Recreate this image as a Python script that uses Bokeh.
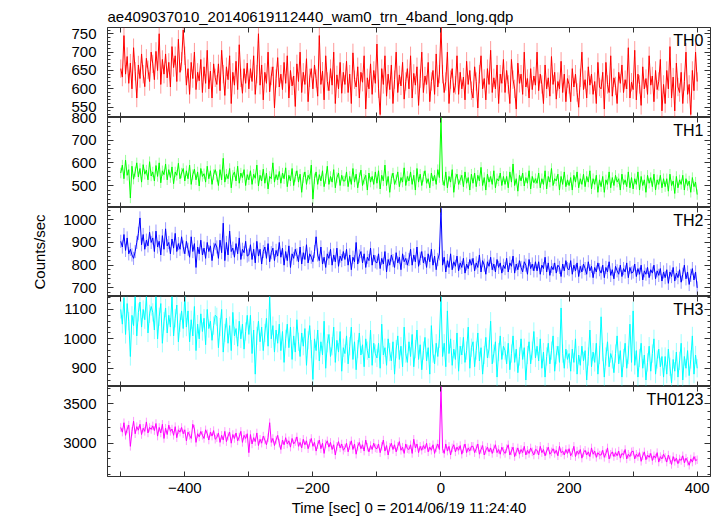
import numpy as np
from bokeh.plotting import figure
from bokeh.layouts import column
from bokeh.models import Range1d, LinearAxis, FixedTicker, Label, CustomLabelingPolicy
from bokeh.embed import file_html
from bokeh.resources import INLINE

TITLE = "ae409037010_20140619112440_wam0_trn_4band_long.qdp"
X_LABEL = "Time [sec] 0 = 2014/06/19 11:24:40"
Y_LABEL = "Counts/sec"

T_FIRST = -500   # time of first bin (s)
T_BIN = 2.5      # bin width (s)

th0 = [
    655, 632, 745, 640, 688, 615, 670, 600, 712, 648, 575, 665, 628, 695, 640, 606, 683, 652, 620, 700,
    668, 625, 702, 650, 750, 612, 680, 640, 695, 630, 672, 605, 715, 658, 690, 620, 735, 645, 675, 760,
    690, 610, 655, 585, 672, 628, 700, 598, 645, 622, 680, 590, 660, 615, 705, 600, 648, 575, 668, 630,
    612, 668, 595, 705, 640, 582, 660, 625, 690, 560, 645, 610, 675, 598, 720, 630, 588, 655, 615, 670,
    600, 655, 620, 690, 585, 640, 750, 610, 665, 570, 645, 615, 700, 592, 635, 660, 548, 628, 685, 605,
    640, 598, 672, 615, 690, 575, 650, 608, 635, 552, 668, 620, 700, 590, 645, 612, 682, 565, 630, 655,
    600, 665, 628, 580, 745, 612, 648, 570, 690, 620, 595, 655, 610, 700, 560, 638, 600, 672, 588, 645,
    612, 675, 590, 640, 560, 698, 625, 605, 660, 575, 645, 618, 690, 545, 630, 600, 668, 585, 650, 615,
    722, 600, 530, 655, 612, 690, 580, 640, 598, 665, 560, 625, 700, 590, 638, 608, 672, 572, 620, 655,
    600, 690, 575, 642, 610, 660, 555, 628, 700, 590, 635, 612, 672, 565, 620, 650, 585, 695, 605, 640,
    768, 640, 590, 620, 700, 560, 625, 655, 590, 610, 690, 585, 645, 600, 632, 570, 675, 612, 650, 595,
    575, 660, 620, 548, 640, 690, 600, 628, 570, 655, 612, 705, 590, 630, 600, 665, 560, 640, 615, 680,
    590, 650, 612, 560, 680, 625, 600, 545, 670, 615, 640, 585, 700, 605, 628, 575, 655, 598, 635, 610,
    700, 595, 640, 612, 560, 665, 600, 630, 580, 688, 612, 645, 572, 620, 600, 675, 590, 640, 565, 628,
    612, 565, 655, 605, 640, 590, 550, 630, 700, 598, 625, 575, 660, 610, 640, 585, 620, 560, 672, 605,
    600, 645, 545, 672, 612, 590, 690, 580, 630, 608, 560, 645, 615, 665, 590, 625, 600, 712, 575, 618,
    598, 705, 570, 640, 612, 555, 660, 600, 628, 585, 690, 610, 635, 565, 650, 598, 620, 680, 540, 612,
    560, 650, 600, 715, 575, 632, 540, 670, 605, 590, 645, 560, 620, 700, 585, 612, 530, 650, 595, 700,
    620,
]

th1 = [
    555, 590, 530, 612, 545, 570, 445, 585, 528, 560, 600, 538, 575, 515, 592, 550, 568, 525, 605, 542,
    560, 520, 588, 540, 600, 512, 565, 548, 595, 525, 570, 535, 582, 508, 560, 545, 598, 530, 555, 575,
    520, 565, 530, 590, 505, 548, 572, 525, 560, 498, 575, 540, 552, 515, 585, 530, 565, 505, 548, 570,
    540, 500, 570, 525, 620, 515, 550, 530, 575, 490, 545, 560, 520, 585, 510, 555, 535, 570, 500, 548,
    525, 565, 505, 550, 532, 590, 498, 545, 520, 572, 510, 555, 485, 540, 530, 600, 515, 548, 525, 562,
    510, 555, 530, 578, 495, 545, 520, 575, 500, 540, 565, 515, 550, 470, 535, 560, 505, 545, 528, 590,
    440, 530, 560, 505, 548, 520, 565, 495, 530, 585, 505, 540, 515, 570, 490, 535, 555, 500, 545, 520,
    520, 560, 495, 540, 505, 575, 515, 550, 490, 535, 568, 500, 528, 545, 480, 555, 515, 540, 505, 560,
    510, 565, 485, 545, 520, 590, 500, 540, 470, 530, 555, 505, 525, 560, 495, 535, 515, 578, 500, 540,
    520, 560, 505, 545, 480, 575, 515, 550, 500, 540, 565, 510, 530, 490, 555, 520, 545, 505, 570, 535,
    800, 525, 500, 560, 490, 540, 515, 570, 470, 530, 550, 505, 525, 545, 495, 560, 510, 535, 480, 550,
    510, 555, 495, 545, 520, 580, 500, 535, 480, 550, 515, 540, 505, 565, 490, 530, 520, 555, 500, 540,
    505, 540, 490, 560, 515, 595, 500, 530, 475, 545, 520, 555, 498, 535, 510, 565, 485, 540, 512, 530,
    510, 555, 490, 530, 505, 565, 485, 540, 515, 575, 500, 530, 520, 550, 480, 540, 505, 560, 495, 525,
    500, 535, 480, 545, 515, 560, 490, 530, 505, 550, 495, 540, 515, 565, 485, 530, 505, 545, 470, 525,
    495, 540, 470, 525, 505, 560, 490, 535, 500, 545, 515, 530, 480, 550, 505, 525, 495, 560, 490, 535,
    485, 530, 505, 560, 480, 540, 500, 525, 470, 545, 510, 535, 495, 550, 480, 525, 505, 545, 490, 530,
    495, 530, 475, 550, 500, 520, 465, 540, 490, 525, 505, 545, 480, 530, 500, 520, 470, 535, 495, 515,
    460,
]

th2 = [
    905, 880, 935, 865, 920, 850, 870, 845, 830, 860, 900, 940, 1008, 890, 935, 870, 910, 885, 945, 900,
    920, 860, 950, 880, 905, 845, 930, 870, 960, 885, 900, 850, 915, 875, 940, 860, 895, 870, 925, 880,
    850, 905, 870, 835, 925, 860, 895, 790, 880, 850, 910, 845, 875, 830, 900, 860, 885, 820, 870, 895,
    880, 830, 910, 855, 985, 820, 900, 845, 950, 860, 875, 835, 895, 850, 920, 825, 870, 855, 905, 840,
    845, 890, 825, 870, 810, 905, 840, 870, 805, 860, 880, 830, 895, 815, 855, 875, 820, 865, 840, 900,
    835, 875, 800, 860, 820, 885, 790, 850, 830, 870, 845, 815, 880, 805, 855, 825, 890, 810, 850, 835,
    815, 860, 925, 845, 820, 880, 805, 835, 790, 850, 830, 870, 800, 845, 815, 875, 795, 840, 820, 860,
    825, 870, 800, 845, 780, 835, 815, 900, 805, 840, 860, 810, 850, 790, 835, 820, 875, 800, 845, 815,
    810, 850, 785, 830, 805, 860, 770, 825, 800, 845, 820, 790, 855, 810, 835, 780, 850, 815, 830, 800,
    825, 870, 800, 845, 815, 880, 795, 830, 860, 810, 835, 790, 850, 815, 870, 800, 840, 780, 825, 850,
    1050, 800, 835, 770, 820, 790, 850, 780, 815, 795, 840, 775, 810, 790, 830, 765, 805, 785, 825, 800,
    830, 775, 810, 790, 845, 770, 820, 800, 760, 815, 795, 835, 780, 805, 770, 825, 790, 810, 765, 800,
    785, 830, 770, 810, 795, 840, 765, 805, 780, 820, 790, 770, 815, 800, 760, 825, 785, 805, 775, 815,
    775, 815, 760, 800, 785, 835, 770, 810, 755, 795, 780, 810, 765, 800, 790, 750, 805, 775, 820, 785,
    780, 820, 760, 800, 775, 810, 750, 795, 770, 805, 785, 760, 815, 775, 795, 745, 790, 770, 810, 780,
    765, 800, 745, 790, 770, 815, 755, 780, 740, 795, 775, 760, 800, 750, 785, 770, 810, 745, 790, 765,
    770, 805, 750, 785, 760, 800, 735, 775, 760, 790, 745, 780, 765, 800, 740, 775, 755, 785, 730, 770,
    745, 780, 720, 770, 750, 790, 730, 765, 745, 780, 725, 760, 800, 740, 770, 715, 755, 785, 735, 770,
    700,
]

th3 = [
    1100, 1050, 1140, 1015, 1120, 1060, 940, 1080, 1045, 1144, 1010, 1090, 1125, 1040, 1100, 1065, 1144, 1020, 1085, 1110,
    1090, 1030, 1144, 1000, 1075, 1120, 985, 1060, 1105, 1020, 1080, 1040, 1144, 1010, 1070, 1115, 990, 1055, 1095, 1035,
    1144, 1040, 1095, 990, 1065, 1010, 1110, 960, 1050, 1000, 1085, 1025, 1070, 980, 1100, 1035, 1060, 995, 1045, 1080,
    1075, 970, 1040, 1100, 955, 1020, 1070, 985, 1045, 960, 1090, 1010, 1035, 975, 1060, 1000, 1050, 965, 1025, 1080,
    1015, 1080, 950, 1030, 880, 1010, 1060, 990, 1040, 960, 1020, 1070, 975, 1144, 1000, 1045, 955, 1030, 985, 1050,
    960, 1025, 920, 1000, 1050, 970, 1040, 930, 1010, 955, 1065, 990, 940, 1020, 975, 1035, 910, 995, 1045, 965,
    862, 1000, 960, 1030, 925, 990, 945, 1060, 900, 985, 1015, 940, 975, 1040, 920, 995, 955, 1025, 890, 970,
    950, 1010, 915, 975, 1040, 930, 990, 895, 965, 1020, 945, 980, 905, 1000, 960, 935, 1030, 910, 985, 950,
    935, 985, 900, 1050, 945, 970, 910, 1000, 955, 925, 990, 880, 965, 1010, 930, 975, 905, 1040, 950, 920,
    990, 940, 1015, 905, 965, 1030, 930, 980, 895, 960, 1005, 925, 970, 880, 1045, 950, 915, 985, 940, 1000,
    1144, 940, 985, 905, 1095, 950, 1000, 910, 965, 930, 1020, 890, 975, 945, 1005, 920, 960, 1040, 900, 970,
    990, 905, 960, 1020, 925, 970, 880, 945, 1005, 935, 965, 1060, 915, 950, 990, 870, 955, 1010, 930, 975,
    960, 915, 985, 895, 950, 1010, 920, 965, 885, 940, 1000, 930, 970, 860, 945, 990, 915, 960, 1025, 935,
    975, 925, 1000, 900, 955, 870, 940, 985, 915, 960, 1010, 890, 945, 975, 920, 1105, 950, 900, 965, 930,
    950, 890, 965, 920, 1000, 880, 945, 910, 975, 925, 960, 860, 940, 1030, 905, 955, 920, 985, 880, 945,
    1075, 955, 870, 940, 990, 905, 950, 930, 885, 950, 1010, 915, 960, 870, 935, 985, 900, 945, 1050, 920,
    1095, 910, 960, 870, 935, 985, 900, 945, 860, 920, 975, 890, 950, 1000, 880, 930, 965, 905, 940, 870,
    940, 880, 965, 905, 850, 930, 890, 955, 870, 925, 985, 860, 940, 900, 960, 875, 930, 1010, 880, 945,
    900,
]

th0123 = [
    3200, 3140, 3260, 3100, 3180, 3230, 2960, 3150, 3280, 3120, 3210, 3165, 3240, 3110, 3190, 3150, 3270, 3130, 3200, 3175,
    3220, 3160, 3250, 3090, 3200, 3130, 3240, 3060, 3190, 3110, 3230, 3150, 3180, 3100, 3210, 3070, 3170, 3140, 3200, 3120,
    3170, 3030, 3140, 3100, 3060, 3240, 3180, 3010, 3120, 3080, 3150, 3100, 3060, 3170, 3120, 3040, 3140, 3090, 3160, 3050,
    3070, 3130, 3010, 3100, 3040, 3150, 3020, 3090, 3140, 3000, 3110, 3060, 3130, 3030, 3080, 3150, 3010, 3100, 3060, 3120,
    2880, 3110, 2990, 3070, 3020, 3130, 2970, 3050, 3000, 3090, 3040, 2980, 3070, 3260, 3010, 3060, 2970, 3040, 3100, 3000,
    2920, 3040, 2980, 3070, 2990, 3030, 2950, 3060, 2990, 3020, 3080, 2960, 3010, 2940, 3050, 2980, 3030, 2930, 3000, 3060,
    2960, 3010, 2900, 2980, 3040, 2930, 3000, 2870, 2990, 3030, 2950, 3010, 2920, 2980, 2850, 2960, 3020, 2940, 2990, 2910,
    2940, 3000, 2890, 2970, 3030, 2920, 2990, 2860, 2960, 3010, 2930, 2980, 2900, 3040, 2950, 2890, 2970, 2920, 3000, 2940,
    2930, 2990, 2880, 2960, 3040, 2900, 2970, 2850, 2950, 3000, 2920, 2980, 2890, 2960, 3020, 2910, 2950, 2870, 2990, 2930,
    2920, 2980, 2870, 3050, 2940, 2990, 2880, 2960, 2910, 2970, 2930, 3000, 2890, 2950, 2910, 2980, 2870, 2940, 2990, 2920,
    3720, 2930, 2870, 2990, 2900, 2960, 2850, 2940, 2980, 2890, 2950, 2910, 2970, 2860, 2930, 2990, 2880, 2940, 2900, 2960,
    2960, 2880, 2930, 2990, 2860, 2920, 2970, 2850, 2910, 2950, 2890, 2940, 2870, 2930, 2980, 2880, 2920, 2860, 2950, 2900,
    2870, 2930, 2980, 2850, 2900, 2950, 2830, 2890, 2940, 2860, 2920, 2880, 2960, 2850, 2910, 2870, 2940, 2890, 2850, 2920,
    2910, 2850, 2960, 2880, 2920, 2840, 2900, 2950, 2860, 2890, 2930, 2870, 2910, 2840, 2960, 2880, 2900, 2850, 2920, 2870,
    2930, 2840, 2880, 2960, 2830, 2900, 2860, 2920, 2810, 2880, 2910, 2850, 2890, 2830, 2940, 2860, 2900, 2820, 2880, 2850,
    2850, 2910, 2820, 2870, 2940, 2800, 2860, 2890, 2830, 2880, 2840, 2900, 2810, 2870, 2850, 2920, 2800, 2860, 2830, 2890,
    2900, 2800, 2860, 2830, 2880, 2770, 2840, 2890, 2790, 2850, 2820, 2870, 2780, 2840, 2810, 2880, 2760, 2830, 2800, 2860,
    2820, 2760, 2850, 2790, 2730, 2830, 2770, 2810, 2740, 2800, 2780, 2840, 2750, 2810, 2770, 2720, 2800, 2760, 2830, 2780,
    2790,
]

band_names = ["TH0", "TH1", "TH2", "TH3", "TH0123"]
band_values = [th0, th1, th2, th3, th0123]
band_errors = [25, 23, 29, 31, 54]
band_colors = ["#ff0000", "#00ff00", "#0000ff", "#00ffff", "#ff00ff"]
y_limits = [(522, 767), (403, 800), (662, 1054), (838, 1144), (2577, 3720)]
y_major_ticks = [[550, 600, 650, 700, 750], [500, 600, 700, 800],
                 [700, 800, 900, 1000], [900, 1000, 1100], [3000, 3500]]
y_minor_step = [10, 20, 20, 20, 100]
x_limits = (-520.7, 420.8)
x_major_ticks = [-500, -400, -300, -200, -100, 0, 100, 200, 300, 400]
x_tick_labels = {-500: "", -400: "\u2212400", -300: "", -200: "\u2212200", -100: "",
                 0: "0", 100: "", 200: "200", 300: "", 400: "400"}

FONT = "Liberation Sans"
FRAME_W = 603
frame_heights = [90, 90, 89, 90, 90]
AX = "#333333"
OVERLAP = 8


def no_labels():
    return CustomLabelingPolicy(
        code="for (const i of [...indices]) indices.unset(i); return indices;")


x_range = Range1d(*x_limits)
figs = []
n = len(band_names)
for i in range(n):
    first = i == 0
    last = i == n - 1
    vals = np.array(band_values[i], dtype=float)
    t = T_FIRST + T_BIN * np.arange(len(vals))
    err = band_errors[i]
    lo, hi = y_limits[i]

    p = figure(x_range=x_range, y_range=Range1d(lo, hi),
               frame_width=FRAME_W, frame_height=frame_heights[i],
               min_border_left=107, min_border_right=5,
               min_border_top=27 if first else OVERLAP,
               min_border_bottom=40 if last else 0,
               x_axis_location=None, y_axis_location=None,
               output_backend="svg", toolbar_location=None,
               title=TITLE if first else None,
               margin=(0, 0, 0, 0) if first else (-OVERLAP, 0, 0, 0))
    p.grid.visible = False
    p.outline_line_color = AX
    p.outline_line_width = 1
    p.background_fill_color = "white"
    p.border_fill_color = "white" if first else None
    if first:
        p.title.text_font = FONT
        p.title.text_font_size = "15px"
        p.title.text_font_style = "normal"
        p.title.text_color = "black"
        p.title.align = "left"
        p.title.offset = 0
        p.title.standoff = 5

    step = y_minor_step[i]
    minor = list(range(int(np.ceil(lo / step) * step), hi + 1, step))
    yt = FixedTicker(ticks=y_major_ticks[i], minor_ticks=minor)

    left = LinearAxis(ticker=yt, major_tick_in=6, major_tick_out=0,
                      minor_tick_in=3, minor_tick_out=0,
                      major_label_standoff=11,
                      major_label_text_font=FONT, major_label_text_font_size="15px",
                      major_label_text_color="black",
                      axis_line_color=AX, major_tick_line_color=AX, minor_tick_line_color=AX)
    if i == 2:
        left.axis_label = Y_LABEL
        left.axis_label_text_font = FONT
        left.axis_label_text_font_size = "15px"
        left.axis_label_text_font_style = "normal"
        left.axis_label_text_color = "black"
        left.axis_label_standoff = 12
    p.add_layout(left, "left")

    right = LinearAxis(ticker=yt, major_tick_in=6, major_tick_out=0,
                       minor_tick_in=3, minor_tick_out=0,
                       major_label_standoff=0, major_label_text_font_size="0px",
                       major_label_policy=no_labels(),
                       axis_line_color=AX, major_tick_line_color=AX, minor_tick_line_color=AX)
    p.add_layout(right, "right")

    xt = FixedTicker(ticks=x_major_ticks, minor_ticks=[])
    top = LinearAxis(ticker=xt, major_tick_in=5, major_tick_out=0,
                     minor_tick_in=0, minor_tick_out=0,
                     major_label_standoff=0, major_label_text_font_size="0px",
                     major_label_policy=no_labels(),
                     axis_line_color=None, major_tick_line_color=AX)
    p.add_layout(top, "above")
    if last:
        bottom = LinearAxis(ticker=xt, major_tick_in=5, major_tick_out=0,
                            minor_tick_in=0, minor_tick_out=0,
                            major_label_standoff=6,
                            major_label_overrides=x_tick_labels,
                            major_label_text_font=FONT, major_label_text_font_size="15px",
                            major_label_text_color="black",
                            axis_label=X_LABEL, axis_label_text_font=FONT,
                            axis_label_text_font_size="15px",
                            axis_label_text_font_style="normal",
                            axis_label_text_color="black", axis_label_standoff=3,
                            axis_line_color=None, major_tick_line_color=AX)
    else:
        bottom = LinearAxis(ticker=xt, major_tick_in=5, major_tick_out=0,
                            minor_tick_in=0, minor_tick_out=0,
                            major_label_standoff=0, major_label_text_font_size="0px",
                            major_label_policy=no_labels(),
                            axis_line_color=None, major_tick_line_color=AX)
    p.add_layout(bottom, "below")

    col = band_colors[i]
    p.segment(t, vals - err, t, vals + err, line_color=col, line_alpha=0.4, line_width=1)
    p.line(t, vals, line_color=col, line_width=1)

    p.add_layout(Label(x=x_limits[1], y=hi, x_offset=-7, y_offset=-4,
                       text=band_names[i], text_align="right", text_baseline="top",
                       text_font=FONT, text_font_size="16px", text_color="black"))
    figs.append(p)

layout = column(*figs, spacing=0)
open("out.html", "w").write(file_html(layout, INLINE))
